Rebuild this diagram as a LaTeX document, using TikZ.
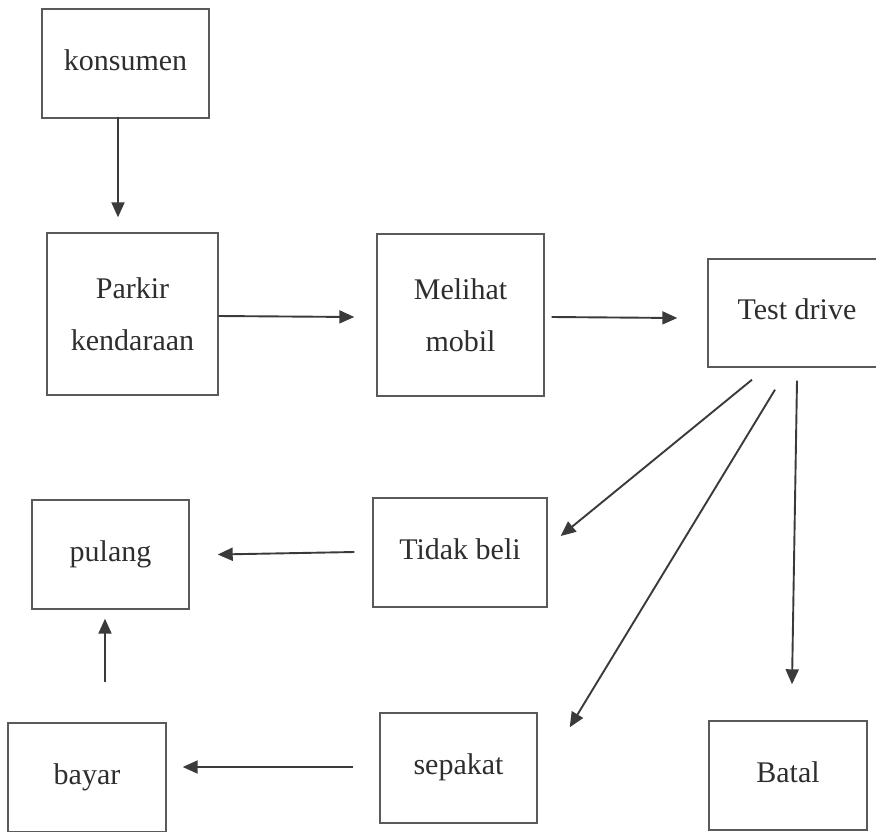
\documentclass[tikz,border=0pt]{standalone}
\usepackage{fontspec}
\setmainfont{Liberation Serif}
\usetikzlibrary{arrows.meta,calc}
\definecolor{ink}{HTML}{2E2E2E}
\definecolor{frame}{HTML}{5A5A5A}
\definecolor{arrowink}{HTML}{3A3A3A}
\tikzset{
  box/.style={draw=frame, line width=1.4pt, inner sep=0pt, text=ink,
    font=\fontsize{30}{52}\selectfont, align=center,
    text height=21pt, text depth=7.5pt},
  twoline/.style={text height={}, text depth={}},
  flow/.style={draw=arrowink, line width=1.9pt,
    -{Triangle[length=15pt,width=13pt]}}
}
\begin{document}
\begin{tikzpicture}[x=1pt,y=-1pt]
  \useasboundingbox (0,0) rectangle (876,831);

  % process boxes
  \node[box, minimum width=167pt, minimum height=109pt] (kons)  at (125.5,63.5) {konsumen};
  \node[box, twoline, minimum width=171pt, minimum height=162pt] (park) at (132.5,314) {Parkir\\kendaraan};
  \node[box, twoline, minimum width=167pt, minimum height=162pt] (meli) at (460.5,315) {Melihat\\mobil};
  \node[box, minimum width=178pt, minimum height=108pt] (test)  at (797,313)    {Test drive};
  \node[box, minimum width=157pt, minimum height=109pt] (pul)   at (110.5,554.5){pulang};
  \node[box, minimum width=174pt, minimum height=109pt] (tidak) at (460,552.5)  {Tidak beli};
  \node[box, minimum width=158pt, minimum height=109pt] (bayar) at (87,777.5)   {bayar};
  \node[box, minimum width=157pt, minimum height=110pt] (sep)   at (458.5,768)  {sepakat};
  \node[box, minimum width=158pt, minimum height=109pt] (batal) at (788,775.5)  {Batal};

  % connectors
  \draw[flow] ($(kons.south)+(-7.5,-2)$) -- ($(park.north)+(-14.5,-15)$);
  \draw[flow] ($(park.east)+(0,2)$) -- ($(meli.west)+(-22,2)$);
  \draw[flow] ($(meli.east)+(7,2)$) -- ($(test.west)+(-30,5)$);
  \draw[flow] ($(test.south)+(-45,12)$) -- ($(tidak.east)+(13,-16.5)$);
  \draw[flow] ($(test.south)+(-22,22)$) -- ($(sep.north east)+(32,15)$);
  \draw[flow] ($(test.south)+(0,13)$) -- ($(batal.north)+(4,-36)$);
  \draw[flow] ($(tidak.west)+(-18,-0.5)$) -- ($(pul.east)+(28,0)$);
  \draw[flow] ($(bayar.north)+(18,-40)$) -- ($(pul.south)+(-5.5,9)$);
  \draw[flow] ($(sep.west)+(-26,-1)$) -- ($(bayar.east)+(16,-10.5)$);
\end{tikzpicture}
\end{document}
